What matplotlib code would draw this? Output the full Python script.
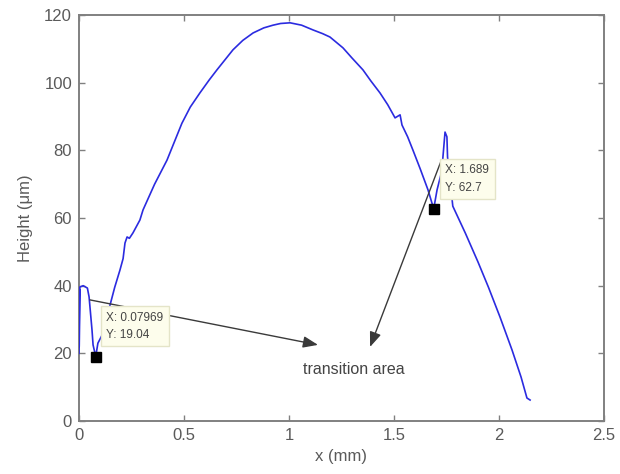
import matplotlib
matplotlib.use("Agg")
import matplotlib.pyplot as plt

plt.rcParams['font.family'] = ['Liberation Sans', 'DejaVu Sans']

# profile data
x_mm = [0.0, 0.002, 0.001, 0.004, 0.02, 0.04, 0.048, 0.062, 0.067, 0.07969, 0.09, 0.11,
        0.148, 0.17, 0.195, 0.21, 0.219, 0.229, 0.24, 0.257, 0.29, 0.305, 0.36, 0.419,
        0.49, 0.53, 0.576, 0.62, 0.657, 0.733, 0.78, 0.829, 0.88, 0.924, 0.96, 1.005,
        1.06, 1.114, 1.16, 1.195, 1.257, 1.3, 1.352, 1.39, 1.433, 1.47, 1.505, 1.529,
        1.538, 1.565, 1.59, 1.625, 1.662, 1.689, 1.705, 1.729, 1.733, 1.743,
        1.752, 1.755, 1.78, 1.84, 1.9, 1.95, 2.005, 2.062, 2.105, 2.133, 2.148]
height_um = [20.0, 39.0, 22.0, 39.6, 40.0, 39.3, 36.7, 26.9, 22.5, 19.04, 23.0, 25.4,
             34.3, 39.5, 44.6, 48.0, 52.6, 54.4, 54.0, 55.6, 59.4, 62.4, 70.0, 77.1,
             88.0, 92.8, 97.0, 100.8, 103.8, 109.7, 112.5, 114.7, 116.2, 117.0, 117.5, 117.7,
             117.0, 115.6, 114.5, 113.5, 110.3, 107.3, 103.8, 100.5, 97.0, 93.5, 89.6, 90.5,
             87.5, 84.0, 80.1, 74.5, 68.3, 62.7, 68.3, 74.2, 78.0, 85.4,
             84.0, 78.0, 63.5, 55.5, 47.0, 39.5, 30.7, 21.0, 13.0, 6.8, 6.2]

tip_x = [0.07969, 1.689]
tip_y = [19.04, 62.7]
tip_labels = [["X: 0.07969", "Y: 19.04"], ["X: 1.689", "Y: 62.7"]]

x_ticks = [0, 0.5, 1, 1.5, 2, 2.5]
x_tick_labels = ["0", "0.5", "1", "1.5", "2", "2.5"]
y_ticks = [0, 20, 40, 60, 80, 100, 120]

fig = plt.figure(figsize=(6.2, 4.74), dpi=100)
ax = fig.add_axes([0.1274, 0.1118, 0.8468, 0.8565])

ax.plot(x_mm, height_um, color='#2b2be0', lw=1.2, zorder=3)

ax.set_xlim(0, 2.5)
ax.set_ylim(0, 120)
ax.set_xticks(x_ticks)
ax.set_xticklabels(x_tick_labels)
ax.set_yticks(y_ticks)

gray = '#5a5a5a'
for s in ax.spines.values():
    s.set_color('#808080')
    s.set_linewidth(1.4)
ax.tick_params(direction='in', length=4, width=1, colors='#808080',
               labelcolor=gray, labelsize=12, top=True, right=True, pad=5)
ax.set_xlabel("x (mm)", fontsize=12, color=gray, labelpad=4)
ax.set_ylabel("Height (\u03bcm)", fontsize=12, color=gray, labelpad=8)

# data tip markers
ax.plot(tip_x, tip_y, linestyle='none', marker='s', markersize=7,
        color='black', zorder=6)

# data tip boxes
box_kw = dict(fontsize=8.5, color='#444444', va='center', ha='left', zorder=8,
              linespacing=1.6,
              bbox=dict(boxstyle='square,pad=0.45', fc='#fdfdec', ec='#e4e4c8', lw=1))
ax.text(0.13, 28.0, "\n".join(tip_labels[0]), **box_kw)
ax.text(1.745, 71.5, "\n".join(tip_labels[1]), **box_kw)

# arrows
arrow_kw = dict(arrowstyle='-|>,head_length=0.9,head_width=0.35', color='#3a3a3a',
                lw=1.0, shrinkA=0, shrinkB=0)
ax.annotate("", xy=(1.138, 22.5), xytext=(0.052, 35.8), arrowprops=arrow_kw, zorder=5)
ax.annotate("", xy=(1.386, 21.9), xytext=(1.725, 77.0), arrowprops=arrow_kw, zorder=5)

ax.text(1.067, 15.2, "transition area", fontsize=11.5, color='#444444',
        va='center', ha='left', zorder=7)

fig.savefig("out.png", dpi=100)
